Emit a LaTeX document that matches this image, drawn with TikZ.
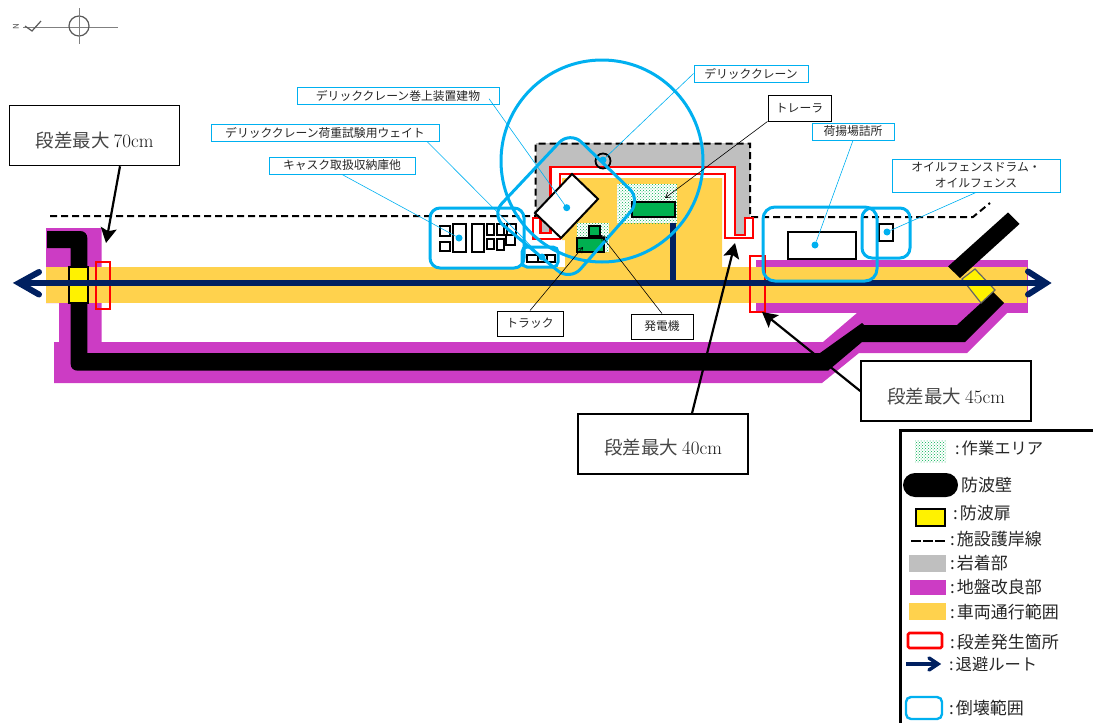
\documentclass[tikz,border=0pt]{standalone}
\usepackage{fontspec}
\setmainfont{Noto Sans CJK JP}
\newfontfamily\serlat{Latin Modern Roman}
\usetikzlibrary{arrows.meta,patterns}
\definecolor{cyanb}{HTML}{00B0F0}
\definecolor{navyr}{HTML}{002060}
\definecolor{roady}{HTML}{FFD24D}
\definecolor{magg}{HTML}{CC3CC4}
\definecolor{rockg}{HTML}{BFBFBF}
\definecolor{greenb}{HTML}{00B050}
\newcommand{\stepnotetext}[2]{\raisebox{-#2pt}[0pt][0pt]{段差最大 {\serlat\fontsize{19}{20}\selectfont\color{black!90}#1cm}}}
\tikzset{
  lblcyan/.style={draw=cyanb,line width=0.9pt,fill=white,inner sep=0pt,align=center,font=\fontsize{11.8}{16}\selectfont,text=black!85},
  lblblk/.style={draw=black,line width=0.9pt,fill=white,inner sep=0pt,align=center,font=\fontsize{11.8}{16}\selectfont,text=black!85},
  stepnote/.style={draw=black,line width=1.5pt,fill=white,inner sep=0pt,minimum width=170pt,minimum height=60pt,font=\fontsize{18.5}{20}\selectfont,text=black!72},
  leadc/.style={draw=cyanb,line width=0.6pt},
  leadk/.style={draw=black,line width=0.6pt,-{Straight Barb[length=5pt,width=6pt]}},
  fatarrow/.style={draw=black,line width=2.2pt,-{Stealth[length=15pt,width=16pt,inset=3pt]}},
  cdot/.style={circle,fill=cyanb,inner sep=0pt,minimum size=7pt},
  collapse/.style={draw=cyanb,line width=3pt},
  redbox/.style={draw=red,line width=2.8pt},
  workarea/.style={pattern=crosshatch dots,pattern color=greenb},
  blkbox/.style={draw=black,line width=2pt,fill=white},
  grnbox/.style={draw=black,line width=2pt,fill=greenb},
  shore/.style={draw=black,line width=2pt,dash pattern=on 7pt off 4pt},
  route/.style={draw=navyr,line width=6pt},
  chev/.style={draw=navyr,line width=6pt,line cap=round,miter limit=10},
  lgd/.style={anchor=west,inner sep=0pt,font=\fontsize{17}{18}\selectfont,text=black!85},
}
\begin{document}
\begin{tikzpicture}[x=1pt,y=-1pt]
\useasboundingbox (0,0) rectangle (1093,723);

% north marker
\draw[gray,line width=1pt] (23,27) -- (118,27);
\draw[gray!70!black,line width=1.2pt] (79,26) circle (10);
\draw[gray,line width=1pt] (79,8) -- (79,44);
\draw[gray!70!black,line width=1.2pt] (25,26) -- (32,31) -- (41,21);
\node[rotate=90,inner sep=0pt,text=gray!60!black,font=\fontsize{8}{8}\selectfont] (north) at (16,27) {N};

% ground improvement
\fill[magg] (46,228) -- (101.5,228) -- (101.5,342) -- (59,342) -- (59,303) -- (46,303) -- cycle;
\fill[magg] (54,342) -- (823,342) -- (857,313) -- (1007,313) -- (967,353) -- (859,353) -- (822,383) -- (54,383) -- cycle;
\fill[magg] (756,260) rectangle (1028,313);

% rock contact area
\fill[rockg] (536,143) -- (750,143) -- (750,218) -- (745,218) -- (745,235) -- (735,235) -- (735,167) -- (550.7,167) -- (550.7,233) -- (540.7,233) -- (540.7,218) -- (536,218) -- cycle;

% vehicle area
\fill[roady] (46,267) rectangle (1027,303);

% shoreline
\draw[shore] (50,216) -- (535.7,216) -- (535.7,143.5) -- (750,143.5) -- (750,217) -- (973,217) -- (990,203);

% step strip
\draw[redbox,fill=white] (560,174) -- (725,174) -- (725,238) -- (753,238) -- (753,218) -- (745,218) -- (745,235) -- (735,235) -- (735,167) -- (550.7,167) -- (550.7,233) -- (540.7,233) -- (540.7,218) -- (533,218) -- (533,239) -- (560,239) -- cycle;
\fill[roady] (562,178) -- (722,178) -- (722,267) -- (565,267) -- (565,240) -- (562,240) -- cycle;

% wall
\fill[black] (47,231) -- (80,231) .. controls (84.5,231) and (87.3,234) .. (87.3,238) -- (87.3,353) -- (820,353) -- (862,323) -- (864,325) -- (957,325) -- (993,292) -- (1004,303) -- (965,342) -- (862,342) -- (828,370.7) -- (78,370.7) .. controls (73.5,370.7) and (70.7,368) .. (70.7,364) -- (70.7,248) -- (47,248) -- cycle;
\fill[black] (948,266.5) -- (1008,212.5) -- (1019.5,224) -- (960,278) -- cycle;

% gates
\draw[draw=black,line width=2pt,fill=yellow] (69,267) rectangle (88,303);
\draw[draw=black!60,line width=1.2pt,fill=yellow] (975,269) -- (995,290) -- (981,303) -- (962,279) -- cycle;

% step rects on the road
\draw[redbox] (96,262) rectangle (110,309);
\draw[redbox] (750,256) rectangle (765,312);

% work areas
\fill[white] (617,184) rectangle (677,223);
\fill[workarea] (617,184) rectangle (677,223);
\fill[white] (577,223) rectangle (609,252);
\fill[workarea] (577,223) rectangle (609,252);

% equipment
\draw[blkbox] (572,174) -- (598,199) -- (561,238) -- (535,213) -- cycle;
\draw[grnbox] (632,202) rectangle (675,217);
\draw[grnbox] (577,238) rectangle (604,252);
\draw[grnbox] (589,226) rectangle (600,236);
\draw[draw=black,line width=1.8pt] (603,161) circle (7.5);

\foreach \a/\b/\c/\d in {440/226/450/236,440/242/450/251,453/224/466/252,472/224/484/252,487/224/494/235,487/239/494/249,497/224/504/235,497/239/504/250,507/224/516/235,506/235/515/245,527/255/538/262,547/255/555/262}
  \draw[blkbox] (\a,\b) rectangle (\c,\d);
\draw[draw=black,line width=1.6pt] (538,255) -- (547,255) (538,262) -- (547,262);

\draw[blkbox] (788,232) rectangle (856,259);
\draw[blkbox] (879,224) rectangle (893,241);

% route
\coordinate (routeL) at (19,283);
\coordinate (routeR) at (1046,283);
\draw[route] (routeL) -- (routeR);
\draw[route] (673,223) -- (673,286);
\draw[chev] (39,272) -- (routeL) -- (39,294.5);
\draw[chev] (1028,271.5) -- (routeR) -- (1028,294.5);

% collapse ranges
\draw[collapse] (602,161) circle (101);
\draw[collapse,rounded corners=16pt] (570,131) -- (641,200) -- (570,281) -- (491,215) -- cycle;
\draw[collapse,rounded corners=10pt] (430,208) rectangle (524,268);
\draw[collapse,rounded corners=5pt] (522,247) rectangle (558,267);
\draw[collapse,rounded corners=12pt] (763,207) rectangle (877,281);
\draw[collapse,rounded corners=10pt] (862,208) rectangle (910,258);

% anchor dots
\node[cdot] (dCrane) at (603,160) {};
\node[cdot] (dHoist) at (566.7,207.7) {};
\node[cdot] (dWeight) at (542,257) {};
\node[cdot] (dCask) at (459,238) {};
\node[cdot] (dOffice) at (815,245) {};
\node[cdot] (dFence) at (887,232) {};

% labels
\node[lblcyan,minimum width=114pt,minimum height=17pt] (lCrane) at (751,73.5) {デリッククレーン};
\node[lblcyan,minimum width=202pt,minimum height=16.5pt] (lHoist) at (398,96) {デリッククレーン巻上装置建物};
\node[lblcyan,minimum width=228pt,minimum height=17pt] (lWeight) at (325,132.5) {デリッククレーン荷重試験用ウェイト};
\node[lblcyan,minimum width=146pt,minimum height=17pt] (lCask) at (342,165.5) {キャスク取扱収納庫他};
\node[lblcyan,minimum width=82pt,minimum height=17pt] (lOffice) at (853,131.5) {荷揚場詰所};
\node[lblcyan,minimum width=168pt,minimum height=33pt] (lFence) at (976,175.5) {オイルフェンスドラム・\\オイルフェンス};
\node[lblblk,minimum width=63pt,minimum height=26pt] (lTrailer) at (799.5,108) {トレーラ};
\node[lblblk,minimum width=66pt,minimum height=25pt] (lTruck) at (530,323.5) {トラック};
\node[lblblk,minimum width=62pt,minimum height=25pt] (lGen) at (662,326.5) {発電機};

\draw[leadc] (lCrane.west) -- (dCrane);
\draw[leadc] ([xshift=91pt,yshift=6pt]lHoist.south) -- (dHoist);
\draw[leadc] ([xshift=102pt]lWeight.south) -- (dWeight);
\draw[leadc] (lCask.south) -- (dCask);
\draw[leadc] (lOffice.south) -- (dOffice);
\draw[leadc] (lFence.south) -- (dFence);
\draw[leadk] (lTrailer.south west) -- (665,198);
\draw[leadk] (lTruck.north) -- (583,247);
\draw[leadk] (lGen.north) -- (601,235);

% step notes
\node[stepnote] (n70) at (94.5,135.5) {\stepnotetext{70}{12}};
\node[stepnote] (n45) at (946,391) {\stepnotetext{45}{12}};
\node[stepnote] (n40) at (663,444) {\stepnotetext{40}{10}};
\coordinate (t70) at (106,243);
\coordinate (t45) at (762,312);
\coordinate (t40) at (735,243);
\draw[fatarrow] ([xshift=25.5pt]n70.south) -- (t70);
\draw[fatarrow] (n45.west) -- (t45);
\draw[fatarrow] ([xshift=29pt]n40.north) -- (t40);

% legend
\draw[draw=black,line width=2.6pt] (900.5,723) -- (900.5,430.5) -- (1093,430.5);
\fill[workarea] (915,440) rectangle (946,462);
\node[lgd,font=\fontsize{16.3}{18}\selectfont] (t1) at (955,448) {:\hspace{2pt}作業エリア};
\fill[black,rounded corners=12pt] (903,473) rectangle (958,497);
\node[lgd] (t2) at (961,485) {防波壁};
\draw[draw=black,line width=1.8pt,fill=yellow] (916,509) rectangle (945,526);
\node[lgd] (t3) at (953,513) {:\hspace{2pt}防波扉};
\draw[draw=black,line width=2pt,dash pattern=on 10pt off 2pt] (911,541) -- (945,541);
\node[lgd] (t4) at (950,539) {:\hspace{2pt}施設護岸線};
\fill[rockg] (909,555) rectangle (946,572);
\node[lgd] (t5) at (950,563) {:\hspace{2pt}岩着部};
\fill[magg] (910,580) rectangle (946,595);
\node[lgd] (t6) at (950,587) {:\hspace{2pt}地盤改良部};
\fill[roady] (909,603) rectangle (946,620);
\node[lgd] (t7) at (950,612) {:\hspace{2pt}車両通行範囲};
\draw[draw=red,line width=2.6pt,rounded corners=1.5pt] (908,633) rectangle (942,648);
\node[lgd] (t8) at (950,642) {:\hspace{2pt}段差発生箇所};
\coordinate (lgL) at (906,664);
\coordinate (lgR) at (938,664);
\draw[draw=navyr,line width=3.5pt] (lgL) -- (lgR);
\draw[draw=navyr,line width=3.5pt,line cap=round] (929,658) -- (lgR) -- (929,670);
\node[lgd,font=\fontsize{16.3}{18}\selectfont] (t9) at (949,664) {:\hspace{2pt}退避ルート};
\draw[draw=cyanb,line width=2.4pt,rounded corners=5pt] (906,697) rectangle (942,719);
\node[lgd] (t10) at (949,708) {:\hspace{2pt}倒壊範囲};
\end{tikzpicture}
\end{document}
